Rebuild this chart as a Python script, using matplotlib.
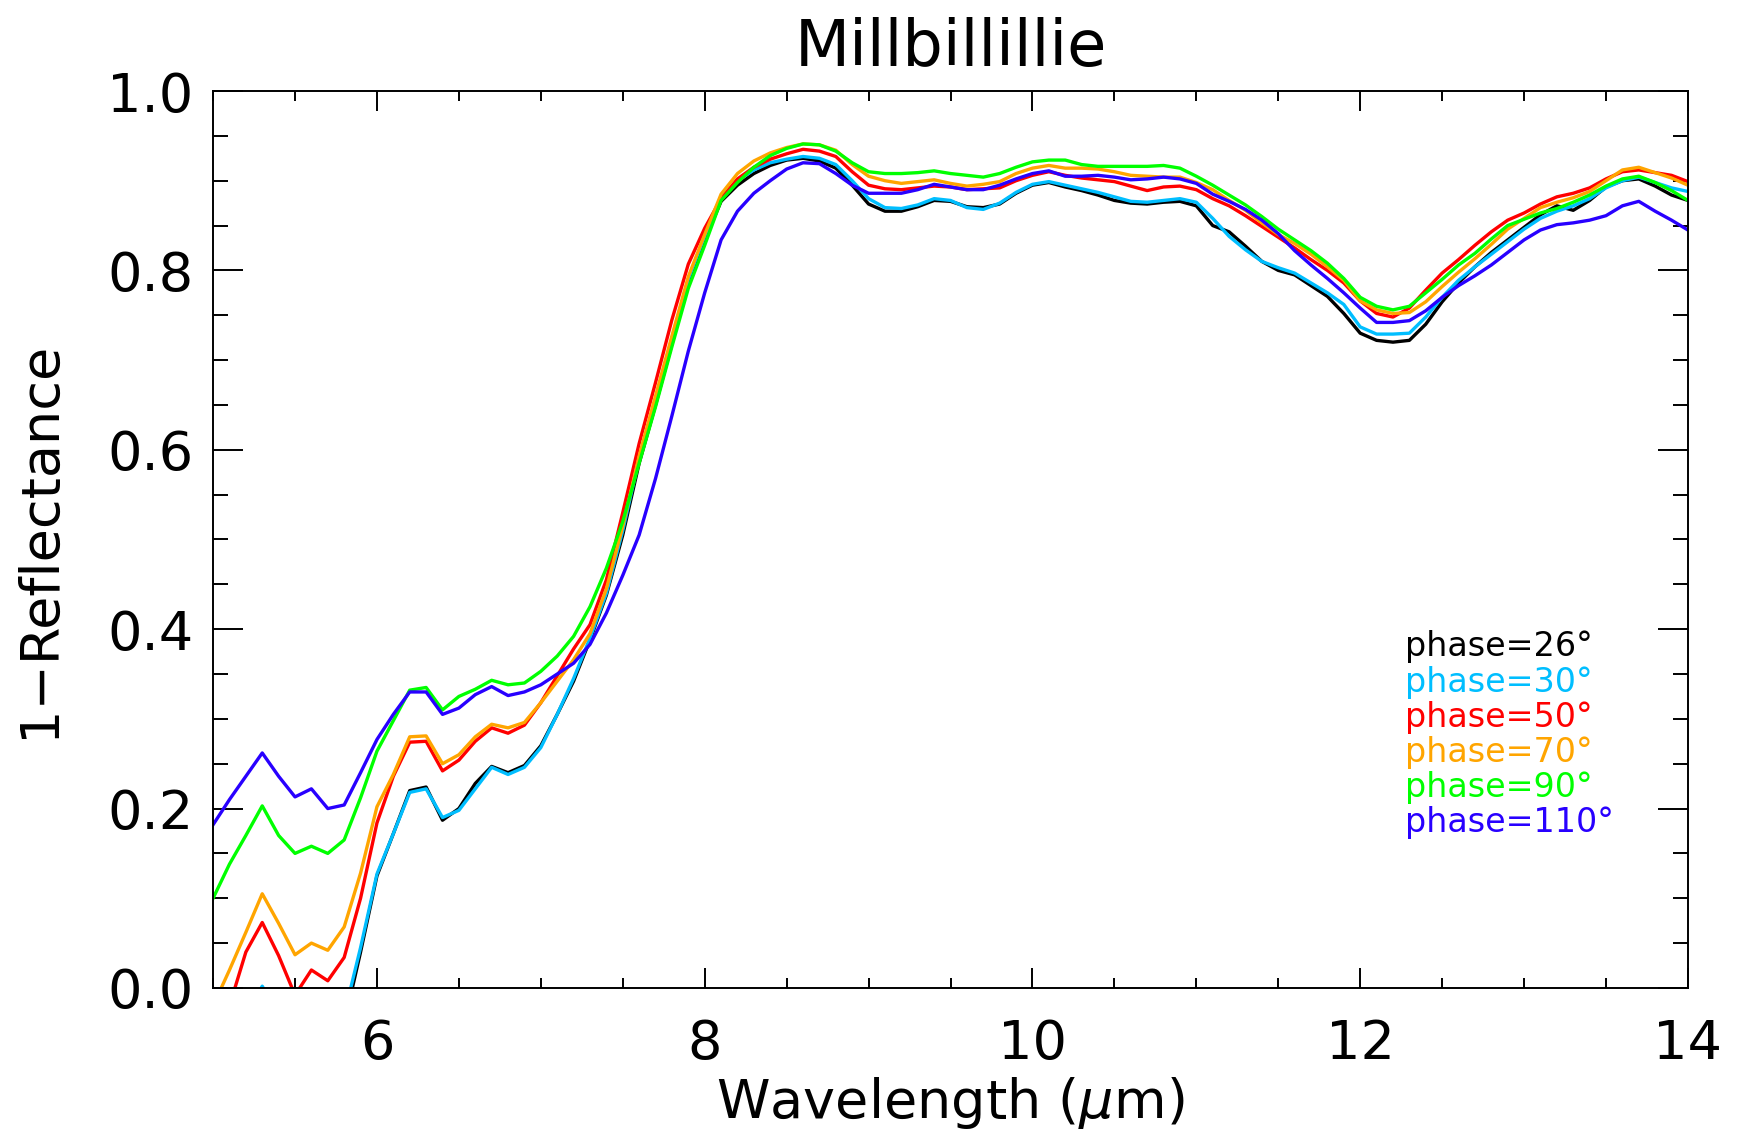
import numpy as np
import matplotlib.pyplot as plt
from matplotlib.ticker import MultipleLocator

# wavelength grid in microns, 0.1 step
wavelength = np.round(np.arange(5.0, 14.05, 0.1), 1)

phase_labels = ['phase=26°', 'phase=30°', 'phase=50°', 'phase=70°', 'phase=90°', 'phase=110°']
phase_colors = ['#000000', '#00BEFF', '#FF0000', '#FFA500', '#00FF00', '#2800FF']

phase26 = [
    -0.17, -0.10, -0.05, -0.01, -0.05, -0.08, -0.07, -0.08, -0.04, 0.040,
    0.125, 0.172, 0.220, 0.224, 0.187, 0.200, 0.228, 0.247, 0.240, 0.248,
    0.270, 0.305, 0.342, 0.388, 0.438, 0.505, 0.585, 0.650, 0.718, 0.786,
    0.834, 0.877, 0.895, 0.908, 0.917, 0.923, 0.925, 0.922, 0.914, 0.895,
    0.874, 0.866, 0.866, 0.871, 0.878, 0.877, 0.871, 0.870, 0.874, 0.886,
    0.895, 0.898, 0.893, 0.889, 0.884, 0.878, 0.875, 0.874, 0.876, 0.877,
    0.872, 0.850, 0.843, 0.827, 0.810, 0.800, 0.795, 0.783, 0.771, 0.752,
    0.730, 0.722, 0.720, 0.722, 0.740, 0.765, 0.786, 0.804, 0.820, 0.834,
    0.848, 0.862, 0.872, 0.867, 0.878, 0.893, 0.900, 0.902, 0.894, 0.884,
    0.878]

phase30 = [
    -0.15, -0.08, -0.03, 0.002, -0.03, -0.06, -0.05, -0.06, -0.03, 0.045,
    0.127, 0.172, 0.218, 0.222, 0.190, 0.198, 0.222, 0.246, 0.238, 0.246,
    0.268, 0.305, 0.345, 0.390, 0.440, 0.510, 0.590, 0.655, 0.722, 0.790,
    0.838, 0.882, 0.900, 0.912, 0.920, 0.924, 0.927, 0.925, 0.918, 0.900,
    0.880, 0.870, 0.869, 0.873, 0.880, 0.878, 0.870, 0.868, 0.875, 0.887,
    0.896, 0.899, 0.895, 0.891, 0.887, 0.882, 0.877, 0.876, 0.878, 0.880,
    0.876, 0.858, 0.838, 0.823, 0.810, 0.803, 0.797, 0.786, 0.775, 0.762,
    0.737, 0.729, 0.729, 0.730, 0.748, 0.770, 0.789, 0.804, 0.818, 0.832,
    0.846, 0.858, 0.866, 0.872, 0.880, 0.892, 0.900, 0.904, 0.898, 0.892,
    0.888]

phase50 = [
    -0.05, -0.02, 0.040, 0.073, 0.036, -0.008, 0.020, 0.008, 0.034, 0.100,
    0.184, 0.236, 0.274, 0.275, 0.242, 0.254, 0.275, 0.290, 0.284, 0.293,
    0.318, 0.348, 0.378, 0.405, 0.455, 0.530, 0.607, 0.675, 0.745, 0.807,
    0.847, 0.880, 0.902, 0.915, 0.924, 0.930, 0.935, 0.933, 0.927, 0.910,
    0.895, 0.891, 0.890, 0.892, 0.894, 0.893, 0.890, 0.891, 0.892, 0.900,
    0.906, 0.910, 0.906, 0.903, 0.901, 0.899, 0.894, 0.889, 0.893, 0.894,
    0.890, 0.880, 0.872, 0.861, 0.849, 0.837, 0.825, 0.812, 0.800, 0.786,
    0.766, 0.752, 0.748, 0.758, 0.778, 0.797, 0.812, 0.828, 0.843, 0.856,
    0.864, 0.874, 0.882, 0.886, 0.892, 0.902, 0.910, 0.912, 0.909, 0.906,
    0.899]

phase70 = [
    -0.02, 0.020, 0.062, 0.105, 0.072, 0.037, 0.050, 0.042, 0.068, 0.128,
    0.202, 0.238, 0.280, 0.281, 0.250, 0.260, 0.280, 0.294, 0.290, 0.296,
    0.318, 0.342, 0.366, 0.395, 0.445, 0.515, 0.593, 0.660, 0.727, 0.793,
    0.840, 0.885, 0.908, 0.922, 0.931, 0.937, 0.941, 0.940, 0.934, 0.918,
    0.905, 0.900, 0.897, 0.899, 0.901, 0.897, 0.894, 0.896, 0.899, 0.908,
    0.914, 0.917, 0.914, 0.914, 0.913, 0.910, 0.906, 0.905, 0.904, 0.904,
    0.898, 0.890, 0.878, 0.867, 0.853, 0.840, 0.830, 0.818, 0.804, 0.789,
    0.766, 0.756, 0.752, 0.753, 0.765, 0.782, 0.798, 0.813, 0.829, 0.846,
    0.858, 0.870, 0.876, 0.881, 0.888, 0.900, 0.912, 0.915, 0.909, 0.903,
    0.895]

phase90 = [
    0.100, 0.138, 0.170, 0.203, 0.170, 0.150, 0.158, 0.150, 0.165, 0.212,
    0.264, 0.298, 0.332, 0.335, 0.310, 0.325, 0.333, 0.343, 0.338, 0.340,
    0.353, 0.370, 0.392, 0.425, 0.468, 0.520, 0.585, 0.648, 0.715, 0.780,
    0.828, 0.878, 0.898, 0.915, 0.928, 0.936, 0.941, 0.940, 0.933, 0.920,
    0.910, 0.908, 0.908, 0.909, 0.911, 0.908, 0.906, 0.904, 0.908, 0.915,
    0.921, 0.923, 0.923, 0.918, 0.916, 0.916, 0.916, 0.916, 0.917, 0.914,
    0.905, 0.895, 0.884, 0.873, 0.860, 0.846, 0.834, 0.822, 0.808, 0.791,
    0.770, 0.760, 0.756, 0.760, 0.775, 0.790, 0.806, 0.819, 0.835, 0.850,
    0.857, 0.864, 0.869, 0.876, 0.884, 0.894, 0.902, 0.905, 0.898, 0.889,
    0.878]

phase110 = [
    0.182, 0.210, 0.236, 0.262, 0.236, 0.213, 0.222, 0.200, 0.204, 0.240,
    0.277, 0.305, 0.330, 0.330, 0.305, 0.312, 0.327, 0.336, 0.326, 0.330,
    0.338, 0.350, 0.362, 0.383, 0.418, 0.460, 0.505, 0.568, 0.638, 0.710,
    0.775, 0.834, 0.866, 0.886, 0.900, 0.913, 0.920, 0.919, 0.908, 0.895,
    0.886, 0.886, 0.886, 0.890, 0.896, 0.893, 0.890, 0.890, 0.895, 0.902,
    0.908, 0.911, 0.905, 0.905, 0.906, 0.904, 0.901, 0.902, 0.904, 0.902,
    0.897, 0.885, 0.877, 0.868, 0.856, 0.841, 0.822, 0.806, 0.791, 0.775,
    0.758, 0.742, 0.742, 0.744, 0.755, 0.770, 0.783, 0.794, 0.806, 0.820,
    0.834, 0.845, 0.851, 0.853, 0.856, 0.861, 0.872, 0.877, 0.866, 0.856,
    0.845]

spectra = [phase26, phase30, phase50, phase70, phase90, phase110]

fig = plt.figure(figsize=(17.38, 11.42), dpi=100)
ax = fig.add_axes([0.1226, 0.1349, 0.8486, 0.7854])

for spec, col in zip(spectra, phase_colors):
    ax.plot(wavelength, spec, color=col, linewidth=2.4)

ax.set_xlim(5, 14)
ax.set_ylim(0, 1)
ax.set_xticks([6, 8, 10, 12, 14])
ax.xaxis.set_minor_locator(MultipleLocator(0.5))
ax.yaxis.set_major_locator(MultipleLocator(0.2))
ax.yaxis.set_minor_locator(MultipleLocator(0.05))

# IDL style: ticks inside on all four sides
ax.tick_params(which='both', direction='in', top=True, right=True, width=1.4, labelsize=39)
ax.tick_params(axis='x', which='major', length=14.4, pad=22)
ax.tick_params(axis='x', which='minor', length=7.2)
ax.tick_params(axis='y', which='major', length=21.6, pad=14)
ax.tick_params(axis='y', which='minor', length=10.8)
for sp in ax.spines.values():
    sp.set_linewidth(1.4)

ax.set_title('Millbillillie', fontsize=46, pad=18)
ax.set_xlabel(r'Wavelength ($\mu$m)', fontsize=39, va='center')
ax.xaxis.set_label_coords(0.5, -0.128)
ax.set_ylabel('1\u2212Reflectance', fontsize=39, va='center')
ax.yaxis.set_label_coords(-0.118, 0.5)

# phase labels stacked inside the plot
label_y = [0.381, 0.341, 0.302, 0.262, 0.223, 0.185]
for lab, col, yy in zip(phase_labels, phase_colors, label_y):
    ax.text(0.808, yy, lab, color=col, fontsize=24, transform=ax.transAxes,
            ha='left', va='center')

fig.savefig('out.png', dpi=100)
